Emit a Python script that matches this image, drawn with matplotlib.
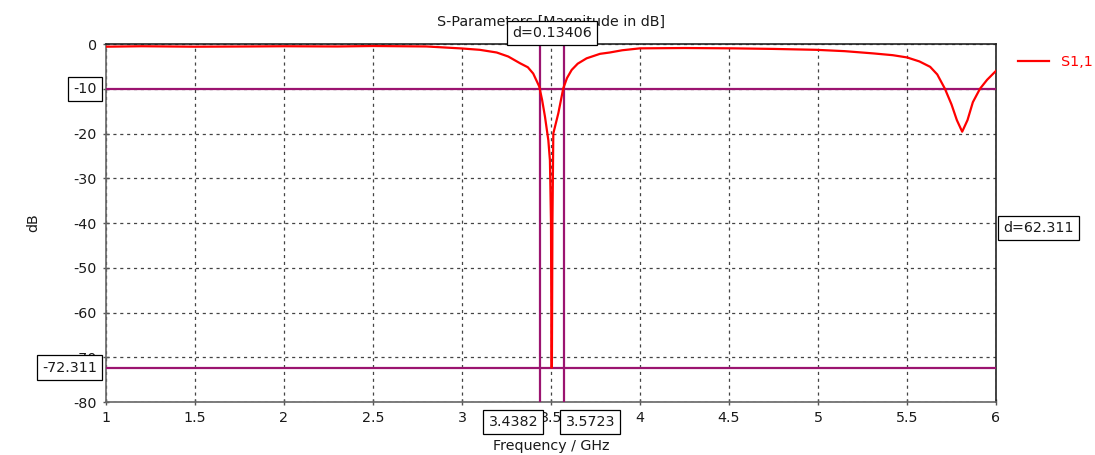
import matplotlib
matplotlib.use("Agg")
import matplotlib.pyplot as plt
import numpy as np

# S1,1 magnitude (dB)
freq_ghz = [1.0, 1.2, 1.5, 1.8, 2.0, 2.3, 2.5, 2.8, 3.0, 3.1, 3.195, 3.26, 3.326, 3.37,
            3.40, 3.434, 3.45, 3.466, 3.485, 3.494, 3.500, 3.503, 3.505, 3.508, 3.513,
            3.541, 3.569, 3.59, 3.616, 3.65, 3.70, 3.775, 3.83, 3.9, 4.0, 4.25, 4.52,
            4.75, 4.99, 5.15, 5.31, 5.42, 5.5, 5.57, 5.63, 5.67, 5.713, 5.75, 5.78,
            5.81, 5.84, 5.87, 5.91, 5.95, 6.0]
s11_db = [-0.6, -0.5, -0.6, -0.55, -0.5, -0.55, -0.45, -0.55, -1.0, -1.3, -1.9, -2.8, -4.3,
          -5.2, -6.6, -9.5, -12.5, -16.2, -21.5, -26.0, -40.0, -72.3, -72.3, -40.0, -20.0,
          -15.5, -9.9, -7.6, -5.8, -4.4, -3.2, -2.2, -1.9, -1.4, -0.97, -0.9, -0.97,
          -1.1, -1.3, -1.6, -2.1, -2.5, -3.0, -3.9, -5.1, -6.8, -10.0, -13.5, -17.0,
          -19.6, -17.0, -13.0, -10.0, -8.0, -6.0]

x_ticks = [1, 1.5, 2, 2.5, 3, 3.5, 4, 4.5, 5, 5.5, 6]
x_tick_labels = ["1", "1.5", "2", "2.5", "3", "3.5", "4", "4.5", "5", "5.5", "6"]
y_ticks = [0, -10, -20, -30, -40, -50, -60, -70, -80]
y_tick_labels = ["0", "", "-20", "-30", "-40", "-50", "-60", "-70", "-80"]

marker_h = [-10, -72.311]
marker_v = [3.4382, 3.5723]
marker_h_labels = ["-10", "-72.311"]
marker_v_labels = ["3.4382", "3.5723"]
delta_x_label = "d=0.13406"
delta_y_label = "d=62.311"

plt.rcParams['font.family'] = ['DejaVu Sans']
plt.rcParams['axes.unicode_minus'] = False
fs = 10.3
purple = '#9B1470'
txtcol = '#1a1a1a'

fig = plt.figure(figsize=(10.95, 4.55), dpi=100)
ax = fig.add_axes([106/1095, 1 - 402/455, (996 - 106)/1095, (402 - 44)/455])

ax.plot(freq_ghz, s11_db, color='#FF0000', lw=1.6, label='S1,1', zorder=4)

for h in marker_h:
    ax.axhline(h, color=purple, lw=1.6, zorder=3)
for v in marker_v:
    ax.axvline(v, color=purple, lw=1.6, zorder=3)

ax.set_xlim(1, 6)
ax.set_ylim(-80, 0)
ax.set_xticks(x_ticks)
ax.set_xticklabels(x_tick_labels)
ax.set_yticks(y_ticks)
ax.set_yticklabels(y_tick_labels)
ax.grid(True, color='#444444', linestyle=(0, (2.5, 3)), lw=0.9)
ax.tick_params(direction='inout', length=5, width=1, colors='#555555',
               labelcolor=txtcol, labelsize=fs, pad=4)
for s in ['left', 'bottom']:
    ax.spines[s].set_color('#666666')
    ax.spines[s].set_linewidth(1.2)
for s in ['top', 'right']:
    ax.spines[s].set_color('#222222')
    ax.spines[s].set_linewidth(1.2)

ax.set_title('S-Parameters [Magnitude in dB]', fontsize=fs, color=txtcol, pad=13)
ax.set_xlabel('Frequency / GHz', fontsize=fs, color=txtcol, labelpad=10)
ax.set_ylabel('dB', fontsize=fs, color=txtcol, labelpad=24)

box = dict(boxstyle='square,pad=0.36', fc='white', ec='black', lw=0.9)
trans_h = ax.get_yaxis_transform()
for h, lab in zip(marker_h, marker_h_labels):
    ax.text(-0.01, h, lab, transform=trans_h, ha='right', va='center',
            fontsize=fs, color=txtcol, bbox=box, zorder=10, clip_on=False)
trans_v = ax.get_xaxis_transform()
for v, lab, ha in zip(marker_v, marker_v_labels, ['right', 'left']):
    ax.text(v + (-0.01 if ha == 'right' else 0.01), -0.055, lab, transform=trans_v,
            ha=ha, va='center', fontsize=fs, color=txtcol, bbox=box, zorder=10, clip_on=False)
ax.text(np.mean(marker_v), 1.03, delta_x_label, transform=trans_v, ha='center', va='center',
        fontsize=fs, color=txtcol, bbox=box, zorder=10, clip_on=False)
ax.text(1.008, np.mean(marker_h), delta_y_label, transform=trans_h, ha='left',
        va='center', fontsize=fs, color=txtcol, bbox=box, zorder=10, clip_on=False)

leg = ax.legend(loc='upper left', bbox_to_anchor=(1.018, 0.985), frameon=False,
                handlelength=2.2, fontsize=fs, labelcolor='#FF0000', borderaxespad=0)

fig.savefig('out.png', dpi=100)
